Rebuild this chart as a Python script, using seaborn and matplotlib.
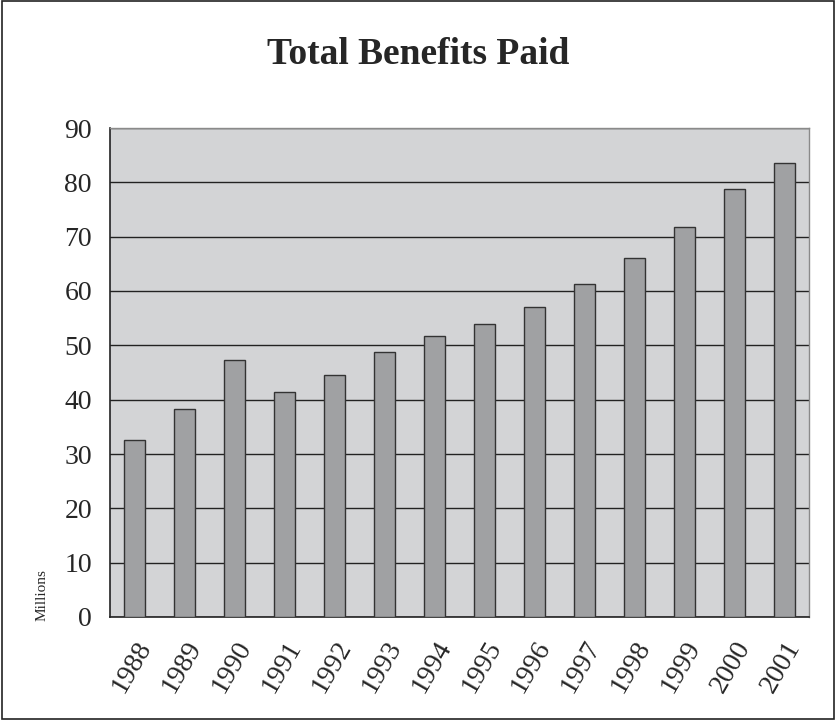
import numpy as np
import pandas as pd
import matplotlib
matplotlib.use("Agg")
import matplotlib.pyplot as plt
import seaborn as sns

years = ["1988", "1989", "1990", "1991", "1992", "1993", "1994",
         "1995", "1996", "1997", "1998", "1999", "2000", "2001"]
benefits = [32.6, 38.2, 47.3, 41.4, 44.6, 48.7, 51.7,
            53.9, 57.0, 61.3, 66.1, 71.8, 78.7, 83.5]

df = pd.DataFrame({"Year": years, "Benefits": benefits})

sns.set_style("white")
plt.rcParams["font.family"] = ["Liberation Serif", "DejaVu Serif"]

fig = plt.figure(figsize=(8.36, 7.2), dpi=100)
ax = fig.add_axes([110 / 836, 1 - 617 / 720, 699 / 836, 489 / 720])
ax.set_facecolor("#d3d4d6")

sns.barplot(data=df, x="Year", y="Benefits", ax=ax, color="#a0a1a3",
            saturation=1, width=0.42, edgecolor="#333333", linewidth=1.0, zorder=3)

# gridlines
ax.set_ylim(0, 90)
ax.set_yticks(np.arange(0, 91, 10))
ax.yaxis.grid(True, color="#222222", linewidth=1.0, zorder=1)
ax.set_axisbelow(True)
ax.set_xlim(-0.5, len(years) - 0.5)

# ticks between categories
ax.set_xticks(np.arange(len(years)))
ax.set_xticks(np.arange(-0.5, len(years), 1), minor=True)
ax.tick_params(axis="x", which="major", length=0, pad=14, labelsize=20)
ax.tick_params(axis="x", which="minor", length=11, width=1, color="#222222", direction="out")
ax.tick_params(axis="y", length=8, width=1, color="#222222", direction="out", pad=5, labelsize=20)
ax.set_xticklabels(years, rotation=60, ha="right", rotation_mode="anchor")

for side in ["left", "bottom"]:
    ax.spines[side].set_color("#222222")
    ax.spines[side].set_linewidth(1.2)
for side in ["top", "right"]:
    ax.spines[side].set_visible(True)
    ax.spines[side].set_color("#8a8a8a")
    ax.spines[side].set_linewidth(1.0)

ax.set_xlabel("")
ax.set_ylabel("")
fig.text(42 / 836, 1 - 595 / 720, "Millions", rotation=90, fontsize=11,
         ha="center", va="center")

fig.text(0.5, 1 - 64 / 720, "Total Benefits Paid", fontsize=27, fontweight="bold",
         ha="center", va="baseline")

# frame around the whole chart
fig.patches.append(plt.Rectangle((0.002, 0.002), 0.996, 0.996, transform=fig.transFigure,
                                 fill=False, edgecolor="#222222", linewidth=1.2))

fig.savefig("out.png", dpi=100)
